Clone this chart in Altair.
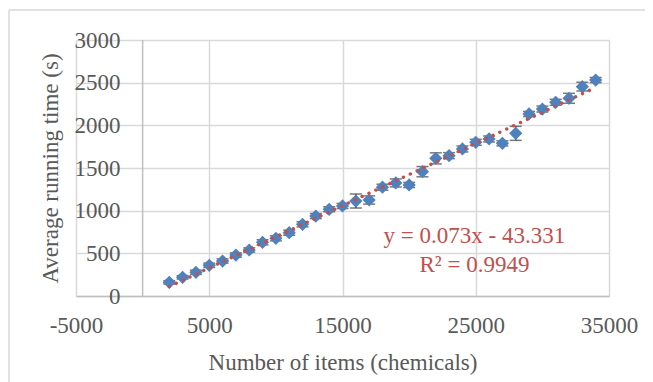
import altair as alt
import pandas as pd

# Data
items = [2000, 3000, 4000, 5000, 6000, 7000, 8000, 9000, 10000, 11000,
         12000, 13000, 14000, 15000, 16000, 17000, 18000, 19000, 20000, 21000,
         22000, 23000, 24000, 25000, 26000, 27000, 28000, 29000, 30000, 31000,
         32000, 33000, 34000]
avg_time = [160, 219, 278, 360, 410, 480, 539, 629, 676, 742,
            840, 937, 1016, 1055, 1113, 1125, 1275, 1325, 1301, 1457,
            1613, 1645, 1723, 1801, 1840, 1789, 1906, 2133, 2191, 2270,
            2317, 2453, 2531]
err = [20, 20, 25, 25, 25, 25, 25, 30, 30, 30,
       30, 30, 30, 30, 82, 48, 35, 47, 30, 60,
       65, 35, 35, 35, 35, 30, 82, 30, 35, 35,
       58, 51, 30]

eq_text = ["y = 0.073x - 43.331", "R² = 0.9949"]
eq_x = [24900, 24900]
eq_y = [621, 281]

x_ticks = [-5000, 5000, 15000, 25000, 35000]
y_ticks = [0, 500, 1000, 1500, 2000, 2500, 3000]

df = pd.DataFrame({"x": items, "y": avg_time, "e": err})
df["lo"] = df["y"] - df["e"]
df["hi"] = df["y"] + df["e"]
eq_df = pd.DataFrame({"t": eq_text, "x": eq_x, "y": eq_y})

FONT = "Liberation Serif"
GRID = "#D9D9D9"
AXIS = "#BFBFBF"
TXT = "#595959"
BLUE = "#4F81BD"
RED = "#C0504D"

xscale = alt.Scale(domain=[-5000, 35000], nice=False, zero=False)
yscale = alt.Scale(domain=[0, 3000], nice=False)

xaxis = alt.Axis(values=x_ticks, labelExpr="'' + datum.value", title="Number of items (chemicals)",
                 grid=True, gridColor=GRID, gridWidth=1.5, domainColor=AXIS, domainWidth=1.5,
                 ticks=False, tickSize=0, labelPadding=18, labelFont=FONT, labelFontSize=23,
                 labelColor=TXT, titleFont=FONT, titleFontSize=23, titleColor=TXT,
                 titleFontWeight="normal", titlePadding=14, labelFlush=False, labelOverlap=False)
yaxis = alt.Axis(values=y_ticks, labelExpr="'' + datum.value", title="Average running time (s)",
                 grid=True, gridColor=GRID, gridWidth=1.5, domain=False,
                 ticks=False, tickSize=0, labelPadding=-44, labelFont=FONT, labelFontSize=23,
                 labelColor=TXT, titleFont=FONT, titleFontSize=23, titleColor=TXT,
                 titleFontWeight="normal", titlePadding=12, labelFlush=False, labelOverlap=False)

base = alt.Chart(df)

# axis line at x = 0 (Excel's vertical axis crosses at zero)
zero_line = alt.Chart(pd.DataFrame({"x0": [0]})).mark_rule(color=AXIS, strokeWidth=1.5).encode(
    x=alt.X("x0:Q", scale=xscale, axis=xaxis),
    y=alt.value(0), y2=alt.value(256)
)

rules = base.mark_rule(color="#404040", strokeWidth=1.5).encode(
    x=alt.X("x:Q", scale=xscale),
    y=alt.Y("lo:Q", scale=yscale, axis=yaxis),
    y2="hi:Q"
)
caps_lo = base.mark_tick(color="#404040", thickness=1.5, size=12, orient="horizontal").encode(
    x=alt.X("x:Q", scale=xscale), y=alt.Y("lo:Q", scale=yscale)
)
caps_hi = base.mark_tick(color="#404040", thickness=1.5, size=12, orient="horizontal").encode(
    x=alt.X("x:Q", scale=xscale), y=alt.Y("hi:Q", scale=yscale)
)
points = base.mark_point(shape="diamond", filled=True, size=175, color=BLUE, opacity=1).encode(
    x=alt.X("x:Q", scale=xscale), y=alt.Y("y:Q", scale=yscale)
)
trend = base.transform_regression("x", "y", extent=[2000, 34000]).mark_line(
    color=RED, strokeWidth=3.4, strokeDash=[0.1, 7.5], strokeCap="round"
).encode(x=alt.X("x:Q", scale=xscale), y=alt.Y("y:Q", scale=yscale))

eq = alt.Chart(eq_df).mark_text(font=FONT, fontSize=23, color=RED, align="center",
                                baseline="alphabetic").encode(
    x=alt.X("x:Q", scale=xscale), y=alt.Y("y:Q", scale=yscale), text="t:N"
)

one = pd.DataFrame({"a": [0]})
border_left = alt.Chart(one).mark_rule(color=GRID, strokeWidth=1.5).encode(
    x=alt.value(-67), y=alt.value(-30), y2=alt.value(360)
)
border_top = alt.Chart(one).mark_rule(color=GRID, strokeWidth=1.5).encode(
    x=alt.value(-67), x2=alt.value(600), y=alt.value(-30)
)

chart = alt.layer(zero_line, rules, caps_lo, caps_hi, points, trend, eq, border_left, border_top).properties(
    width=533, height=256,
    autosize=alt.AutoSizeParams(type="none"),
    padding={"left": 68, "top": 32, "right": 36, "bottom": 86},
    background="white"
).configure_view(stroke=None)

chart.save("out.html", embed_options={"renderer": "svg", "actions": False})
